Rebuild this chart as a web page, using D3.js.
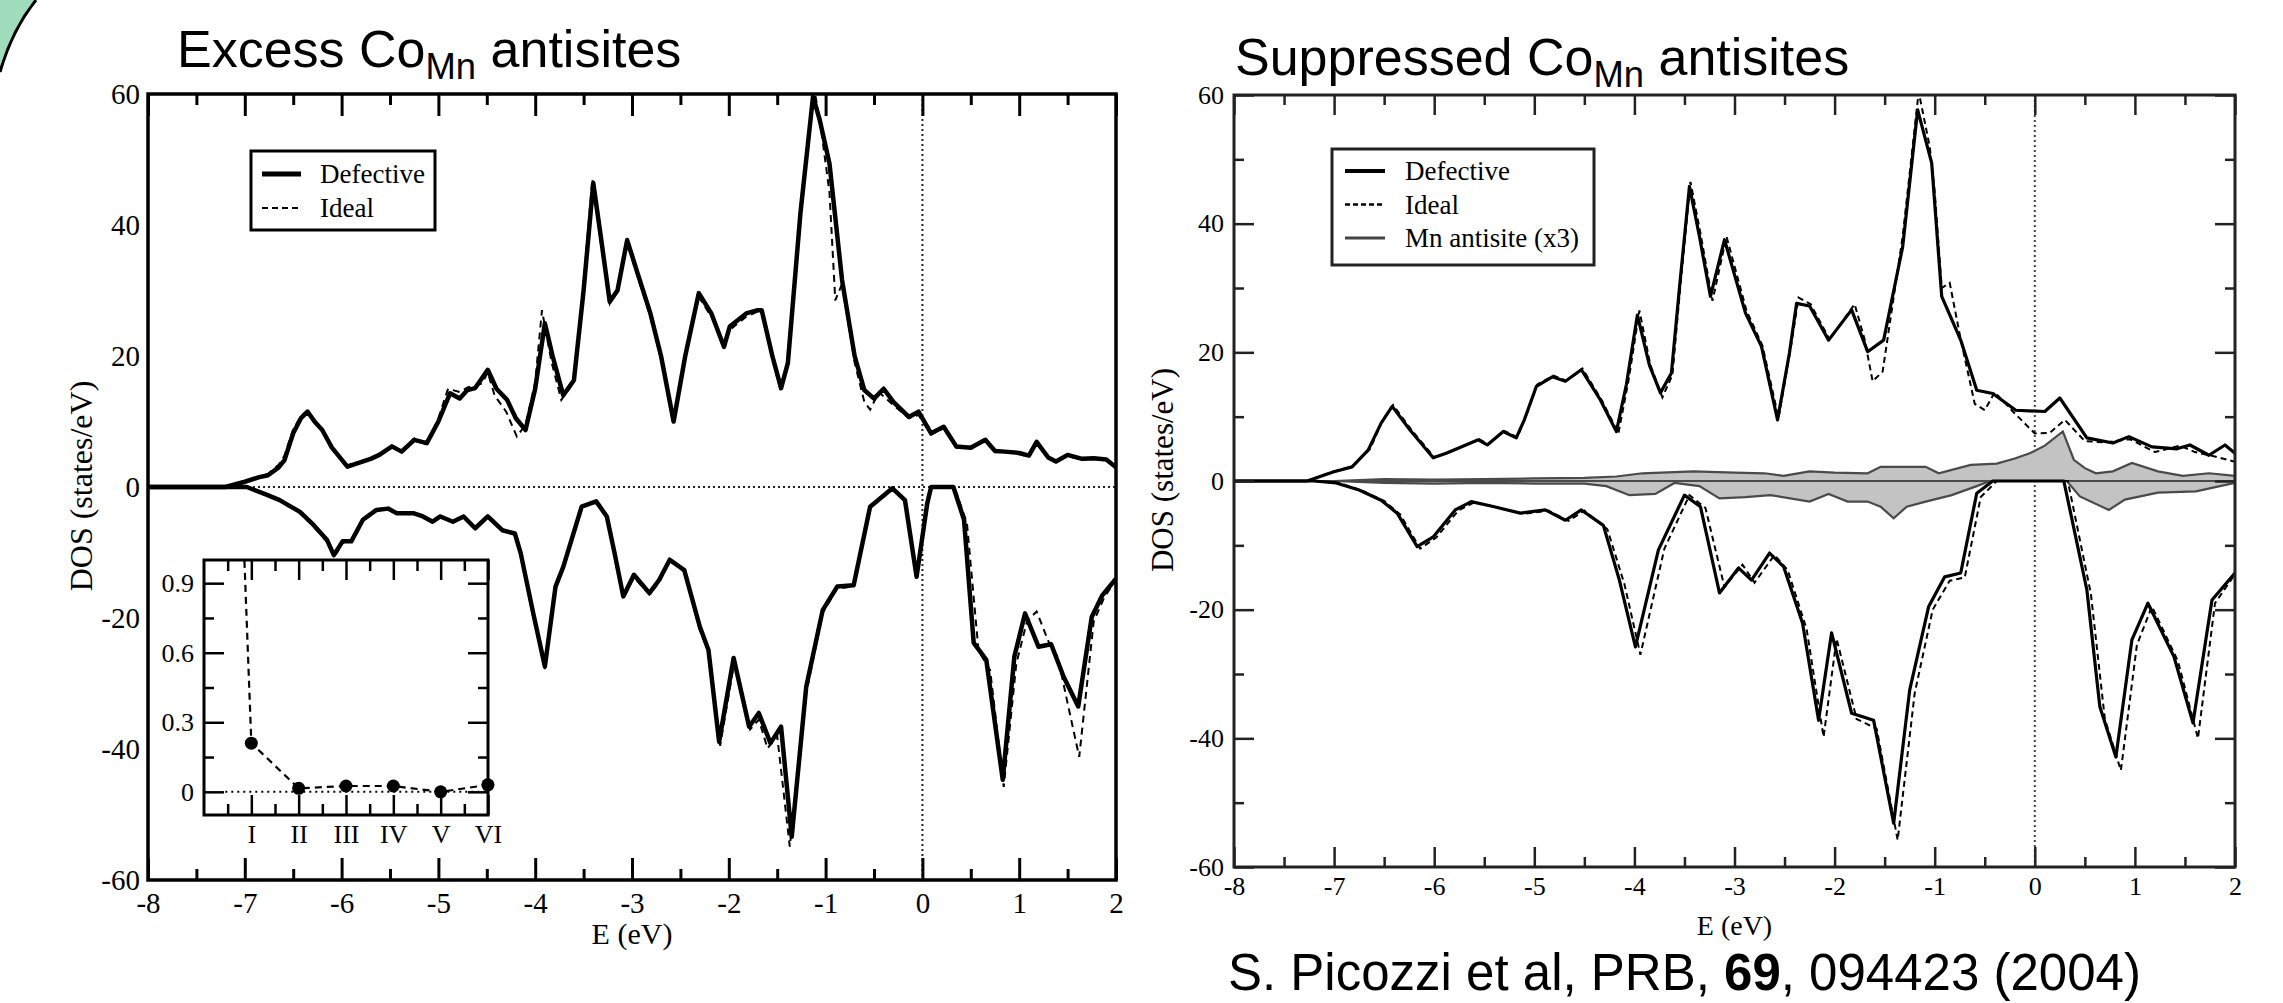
<!DOCTYPE html>
<html><head><meta charset="utf-8">
<script src="https://cdn.jsdelivr.net/npm/d3@7"></script>
<style>body{margin:0;background:#fff;overflow:hidden}</style>
</head><body>
<svg id="c" width="2283" height="1003"></svg>
<script>
// ---------------- DATA ----------------
const energyDomain = [-8, 2];
const dosDomain = [-60, 60];
const xTickValues = [-8,-7,-6,-5,-4,-3,-2,-1,0,1,2];
const xMinorTicks = [-7.5,-6.5,-5.5,-4.5,-3.5,-2.5,-1.5,-0.5,0.5,1.5];
const yTickValues = [-60,-40,-20,0,20,40,60];
const yMinorTicks = [-50,-30,-10,10,30,50];

// Left panel (Excess Co_Mn antisites): [E (eV), DOS]
const leftUpDefective = [[-8,0],[-7.2,0],[-7.0,0.8],[-6.85,1.5],[-6.76,1.8],[-6.65,3.0],[-6.59,4.1],[-6.5,8.2],[-6.42,10.5],[-6.35,11.5],[-6.28,10.0],[-6.2,8.7],[-6.1,6.0],[-5.94,3.1],[-5.8,3.8],[-5.7,4.3],[-5.61,4.9],[-5.48,6.2],[-5.38,5.4],[-5.25,7.2],[-5.12,6.7],[-5.0,10.0],[-4.88,14.3],[-4.78,13.5],[-4.7,14.8],[-4.62,15.1],[-4.49,17.9],[-4.4,15.0],[-4.29,13.3],[-4.2,10.5],[-4.1,8.7],[-4.0,15.0],[-3.9,25.0],[-3.82,20.0],[-3.71,14.0],[-3.6,16.3],[-3.5,30.0],[-3.4,46.4],[-3.32,38.0],[-3.23,28.3],[-3.15,30.0],[-3.05,37.7],[-2.95,33.0],[-2.81,26.5],[-2.7,20.0],[-2.57,10.0],[-2.45,20.0],[-2.31,29.6],[-2.18,26.5],[-2.05,21.4],[-1.99,24.5],[-1.82,26.5],[-1.7,27.0],[-1.66,27.0],[-1.55,20.0],[-1.46,15.1],[-1.39,18.9],[-1.26,41.8],[-1.13,59.6],[-1.06,56.0],[-0.96,49.4],[-0.83,31.6],[-0.7,20.0],[-0.6,14.8],[-0.5,13.5],[-0.4,15.0],[-0.3,13.0],[-0.14,10.7],[-0.04,11.5],[0.09,8.2],[0.22,9.2],[0.35,6.2],[0.5,6.0],[0.65,7.2],[0.75,5.5],[0.85,5.4],[1.0,5.2],[1.1,4.8],[1.18,6.9],[1.3,4.5],[1.38,3.9],[1.5,4.9],[1.65,4.3],[1.77,4.4],[1.9,4.2],[2.0,3.0]];
const leftUpIdeal = [[-8,0],[-7.2,0],[-7.0,0.9],[-6.85,1.6],[-6.76,2.0],[-6.65,3.4],[-6.59,4.8],[-6.5,8.8],[-6.42,10.8],[-6.36,11.6],[-6.28,10.2],[-6.2,8.5],[-6.1,5.8],[-5.95,3.3],[-5.8,3.9],[-5.7,4.4],[-5.61,5.0],[-5.48,6.0],[-5.38,5.6],[-5.25,7.4],[-5.12,6.5],[-5.0,10.5],[-4.9,15.0],[-4.78,14.5],[-4.7,15.2],[-4.55,15.8],[-4.49,17.5],[-4.42,14.0],[-4.3,11.5],[-4.19,7.7],[-4.1,9.5],[-4.0,16.0],[-3.93,27.0],[-3.83,19.0],[-3.73,13.3],[-3.6,16.0],[-3.5,31.0],[-3.41,47.0],[-3.32,37.0],[-3.23,28.0],[-3.15,30.5],[-3.05,37.2],[-2.95,32.5],[-2.81,26.0],[-2.7,19.5],[-2.57,10.5],[-2.45,20.5],[-2.31,29.0],[-2.18,26.0],[-2.05,21.8],[-1.99,24.0],[-1.82,26.0],[-1.7,26.8],[-1.66,26.5],[-1.55,19.5],[-1.46,14.5],[-1.39,19.5],[-1.26,43.0],[-1.12,61.0],[-1.05,55.0],[-0.96,45.0],[-0.9,28.5],[-0.83,31.0],[-0.7,19.0],[-0.6,13.0],[-0.54,11.8],[-0.45,14.5],[-0.3,12.5],[-0.14,10.5],[-0.04,11.0],[0.09,8.0],[0.22,9.0],[0.35,6.0],[0.5,6.2],[0.65,7.0],[0.75,5.3],[0.85,5.5],[1.0,5.0],[1.1,4.6],[1.18,6.7],[1.3,4.4],[1.38,3.8],[1.5,4.7],[1.65,4.2],[1.77,4.3],[1.9,4.1],[2.0,3.0]];
const leftDownDefective = [[-8,0],[-7.1,0],[-6.98,0],[-6.77,-1.2],[-6.64,-2.0],[-6.43,-3.8],[-6.29,-5.8],[-6.15,-8.1],[-6.08,-10.4],[-5.99,-8.3],[-5.9,-8.3],[-5.78,-5.0],[-5.64,-3.5],[-5.52,-3.3],[-5.43,-4.0],[-5.26,-4.0],[-5.16,-4.5],[-5.06,-5.3],[-4.98,-4.5],[-4.85,-5.3],[-4.74,-4.5],[-4.62,-6.3],[-4.49,-4.5],[-4.34,-6.6],[-4.21,-7.1],[-4.15,-10.1],[-4.02,-19.3],[-3.9,-27.4],[-3.79,-15.2],[-3.71,-12.2],[-3.52,-3.0],[-3.37,-2.2],[-3.26,-4.5],[-3.18,-10.1],[-3.09,-16.7],[-2.98,-13.4],[-2.82,-16.2],[-2.72,-14.2],[-2.61,-11.1],[-2.46,-12.7],[-2.3,-21.3],[-2.21,-24.9],[-2.1,-38.9],[-1.95,-26.1],[-1.79,-36.6],[-1.69,-34.5],[-1.57,-39.1],[-1.46,-36.6],[-1.35,-53.4],[-1.2,-30.5],[-1.03,-18.8],[-0.88,-15.2],[-0.71,-15.0],[-0.54,-3.0],[-0.31,-0.2],[-0.18,-2.0],[-0.06,-13.7],[0.05,-2.5],[0.09,0],[0.32,0],[0.43,-5.0],[0.53,-23.8],[0.66,-26.4],[0.83,-44.7],[0.95,-25.9],[1.06,-19.3],[1.2,-24.4],[1.33,-24.0],[1.46,-29.0],[1.61,-33.5],[1.75,-19.8],[1.86,-16.5],[2.0,-14.0]];
const leftDownIdeal = [[-8,0],[-7.1,0],[-6.98,0],[-6.77,-1.3],[-6.64,-2.1],[-6.43,-4.0],[-6.29,-6.0],[-6.15,-8.4],[-6.07,-10.6],[-5.99,-8.5],[-5.9,-8.1],[-5.78,-5.2],[-5.64,-3.6],[-5.52,-3.4],[-5.43,-4.1],[-5.26,-4.1],[-5.16,-4.6],[-5.06,-5.4],[-4.98,-4.6],[-4.85,-5.4],[-4.74,-4.6],[-4.62,-6.4],[-4.49,-4.6],[-4.34,-6.7],[-4.21,-7.3],[-4.15,-10.5],[-4.02,-19.8],[-3.9,-27.8],[-3.79,-15.5],[-3.71,-12.4],[-3.52,-3.1],[-3.37,-2.3],[-3.26,-4.7],[-3.18,-10.5],[-3.09,-17.0],[-2.98,-13.8],[-2.82,-16.4],[-2.72,-14.6],[-2.61,-11.3],[-2.46,-12.9],[-2.3,-21.8],[-2.2,-25.5],[-2.09,-39.5],[-1.94,-26.5],[-1.78,-37.0],[-1.69,-35.5],[-1.6,-39.9],[-1.5,-38.0],[-1.37,-54.9],[-1.2,-31.5],[-1.03,-19.2],[-0.88,-15.5],[-0.71,-15.2],[-0.54,-3.2],[-0.31,-0.3],[-0.18,-2.2],[-0.06,-14.0],[0.05,-2.6],[0.09,0],[0.33,0],[0.46,-5.5],[0.58,-25.0],[0.7,-28.0],[0.84,-45.8],[0.97,-27.0],[1.08,-20.5],[1.18,-19.0],[1.3,-23.5],[1.4,-26.0],[1.5,-33.0],[1.62,-41.2],[1.77,-20.5],[1.88,-16.8],[2.0,-14.2]];

// Inset: relative quantity per configuration
const insetCategories = ["", "I", "II", "III", "IV", "V", "VI"];
const insetValues = [5.6, 0.21, 0.015, 0.025, 0.025, 0.0, 0.03];
const insetYTicks = [0, 0.3, 0.6, 0.9];
const insetYLabels = ["0", "0.3", "0.6", "0.9"];
const insetYMinor = [0.15, 0.45, 0.75];

// Right panel (Suppressed Co_Mn antisites)
const rightUpDefective = [[-8,0],[-7.27,0],[-7.01,1.4],[-6.82,2.2],[-6.66,4.8],[-6.53,9.0],[-6.42,11.6],[-6.24,7.9],[-6.01,3.6],[-5.88,4.3],[-5.76,5.1],[-5.56,6.4],[-5.47,5.6],[-5.31,7.7],[-5.18,6.7],[-5.1,9.5],[-4.98,14.7],[-4.82,16.2],[-4.69,15.5],[-4.53,17.3],[-4.34,12.6],[-4.18,7.7],[-4.08,15.0],[-3.97,25.8],[-3.85,18.0],[-3.74,13.7],[-3.63,16.8],[-3.55,30.0],[-3.45,45.8],[-3.35,38.0],[-3.24,28.7],[-3.10,37.5],[-2.89,26.1],[-2.73,20.9],[-2.57,9.5],[-2.45,20.0],[-2.38,27.6],[-2.25,27.2],[-2.06,21.9],[-1.83,26.6],[-1.67,20.1],[-1.51,21.9],[-1.32,36.4],[-1.17,57.7],[-1.03,49.4],[-0.93,28.7],[-0.74,21.9],[-0.58,14.1],[-0.42,13.6],[-0.19,11.0],[0.10,10.8],[0.25,12.9],[0.52,6.7],[0.78,5.9],[0.94,6.9],[1.17,5.3],[1.42,5.0],[1.55,5.6],[1.74,4.0],[1.9,5.6],[2.0,4.3]];
const rightUpIdeal = [[-8,0],[-7.27,0],[-7.0,1.5],[-6.82,2.3],[-6.64,5.0],[-6.52,9.3],[-6.41,11.8],[-6.22,7.8],[-6.0,3.7],[-5.87,4.4],[-5.75,5.2],[-5.55,6.5],[-5.46,5.7],[-5.3,7.8],[-5.17,6.8],[-5.09,9.8],[-4.97,15.0],[-4.81,16.4],[-4.68,15.6],[-4.52,17.5],[-4.32,12.4],[-4.16,7.4],[-4.06,15.5],[-3.95,26.5],[-3.84,18.0],[-3.72,13.0],[-3.62,16.5],[-3.54,30.5],[-3.44,46.5],[-3.34,38.5],[-3.22,28.0],[-3.08,38.0],[-2.88,26.5],[-2.72,21.0],[-2.56,9.8],[-2.44,20.5],[-2.36,28.5],[-2.24,27.5],[-2.05,22.0],[-1.8,27.5],[-1.7,22.0],[-1.62,15.5],[-1.52,17.0],[-1.32,38.0],[-1.16,60.5],[-1.05,52.0],[-1.0,45.0],[-0.93,30.0],[-0.85,30.8],[-0.74,22.0],[-0.6,12.0],[-0.5,11.0],[-0.4,13.8],[-0.2,10.5],[0.0,7.4],[0.15,7.5],[0.3,9.5],[0.5,6.2],[0.7,6.0],[0.95,6.5],[1.2,4.5],[1.45,5.5],[1.6,4.5],[1.8,3.8],[2.0,3.0]];
const rightDownDefective = [[-8,0],[-7.2,0],[-6.98,-0.3],[-6.75,-1.4],[-6.53,-3.0],[-6.37,-5.0],[-6.17,-10.2],[-6.01,-8.7],[-5.79,-4.5],[-5.63,-3.2],[-5.40,-4.0],[-5.14,-5.0],[-4.89,-4.5],[-4.69,-6.1],[-4.53,-4.5],[-4.31,-6.9],[-4.15,-15.4],[-3.99,-25.8],[-3.76,-10.7],[-3.50,-2.2],[-3.34,-4.0],[-3.15,-17.4],[-2.96,-13.5],[-2.83,-15.4],[-2.65,-11.2],[-2.51,-13.3],[-2.32,-22.1],[-2.16,-37.2],[-2.03,-23.6],[-1.83,-36.1],[-1.61,-37.2],[-1.41,-53.2],[-1.25,-32.5],[-1.06,-19.5],[-0.90,-14.9],[-0.74,-14.3],[-0.58,-1.9],[-0.42,0],[0.29,0],[0.52,-16.9],[0.65,-35.1],[0.81,-42.9],[0.97,-24.7],[1.13,-19.0],[1.39,-27.3],[1.58,-37.6],[1.77,-18.5],[2.0,-14.3]];
const rightDownIdeal = [[-8,0],[-7.2,0],[-6.95,-0.3],[-6.72,-1.5],[-6.5,-3.1],[-6.34,-5.2],[-6.14,-10.5],[-5.98,-8.8],[-5.76,-4.6],[-5.6,-3.3],[-5.37,-4.1],[-5.11,-5.1],[-4.86,-4.6],[-4.66,-6.2],[-4.5,-4.6],[-4.27,-7.5],[-4.1,-16.0],[-3.94,-27.0],[-3.7,-10.5],[-3.45,-2.2],[-3.29,-4.2],[-3.1,-16.5],[-2.92,-13.0],[-2.8,-15.8],[-2.6,-11.5],[-2.47,-13.8],[-2.28,-23.0],[-2.11,-39.8],[-1.98,-24.5],[-1.78,-37.0],[-1.58,-38.5],[-1.37,-55.8],[-1.2,-33.0],[-1.02,-20.0],[-0.85,-15.5],[-0.7,-15.0],[-0.54,-2.5],[-0.38,0],[0.33,0],[0.56,-17.5],[0.7,-37.0],[0.86,-45.0],[1.02,-25.5],[1.17,-19.5],[1.43,-28.0],[1.63,-40.0],[1.8,-19.0],[2.0,-14.5]];
const rightAntisiteUp = [[-8,0],[-7.0,0],[-6.5,0.3],[-6.0,0.2],[-5.5,0.3],[-5.0,0.4],[-4.5,0.5],[-4.18,0.7],[-3.92,1.2],[-3.41,1.5],[-3.0,1.3],[-2.7,1.2],[-2.51,0.8],[-2.25,1.5],[-2.0,1.3],[-1.67,1.2],[-1.54,2.2],[-1.09,2.2],[-0.96,1.2],[-0.64,2.5],[-0.38,2.7],[-0.2,3.5],[-0.05,4.3],[0.1,5.5],[0.28,7.7],[0.39,3.3],[0.5,2.0],[0.61,1.2],[0.78,1.5],[0.97,2.8],[1.23,1.5],[1.48,0.8],[1.74,1.2],[2.0,0.8]];
const rightAntisiteDown = [[-8,0],[-7.0,0],[-6.5,-0.3],[-6.0,-0.4],[-5.5,-0.3],[-5.0,-0.4],[-4.5,-0.4],[-4.28,-0.8],[-4.05,-2.2],[-3.79,-2.0],[-3.6,-0.3],[-3.35,-0.8],[-3.15,-2.7],[-2.89,-2.5],[-2.64,-2.2],[-2.25,-3.2],[-2.06,-2.0],[-1.87,-3.2],[-1.67,-3.2],[-1.54,-4.0],[-1.41,-5.8],[-1.28,-4.0],[-1.09,-3.2],[-0.83,-2.2],[-0.58,-0.8],[-0.45,0],[0.32,0],[0.45,-2.4],[0.74,-4.5],[0.9,-2.9],[1.23,-1.8],[1.61,-1.6],[2.0,-0.3]];

// ---------------- DRAWING ----------------
const SERIF = "'Liberation Serif','Times New Roman',serif";
const SANS = "'Liberation Sans',Arial,sans-serif";
const svg = d3.select('#c');

// decorative slide corner
svg.append('path').attr('d','M0,0 L36,0 Q12,30 0,72 Z').attr('fill','#9fdcbb');
svg.append('path').attr('d','M36,0 Q12,30 0,72').attr('fill','none').attr('stroke','#000').attr('stroke-width',3);

function title(x, y, pre, sub, post, size) {
  const t = svg.append('text').attr('x', x).attr('y', y).attr('font-family', SANS).attr('font-size', size).attr('fill','#000');
  t.append('tspan').text(pre);
  t.append('tspan').attr('font-size', size*0.7).attr('dy', size*0.24).text(sub);
  t.append('tspan').attr('dy', -size*0.24).text(post);
}
title(177, 67, 'Excess Co', 'Mn', ' antisites', 52);
title(1235, 75, 'Suppressed Co', 'Mn', ' antisites', 52);

const cite = svg.append('text').attr('x', 1228).attr('y', 990).attr('font-family', SANS).attr('font-size', 51).attr('fill','#000');
cite.append('tspan').text('S. Picozzi et al, PRB, ');
cite.append('tspan').attr('font-weight','bold').text('69');
cite.append('tspan').text(', 094423 (2004)');

function styleAxis(sel, color, w, fs) {
  sel.select('.domain').remove();
  sel.selectAll('line').attr('stroke', color).attr('stroke-width', w);
  sel.selectAll('text').attr('font-family', SERIF).attr('font-size', fs).attr('fill', '#000');
}

function drawPanel(p) {
  const g = svg.append('g');
  const x = d3.scaleLinear().domain(energyDomain).range([p.left, p.right]);
  const y = d3.scaleLinear().domain(dosDomain).range([p.bottom, p.top]);
  const cid = 'clip' + p.id;
  svg.append('clipPath').attr('id', cid).append('rect')
    .attr('x', p.left).attr('y', p.top).attr('width', p.right - p.left).attr('height', p.bottom - p.top);
  const plot = g.append('g').attr('clip-path', `url(#${cid})`);

  // zero reference lines (dotted)
  plot.append('line').attr('x1', x(energyDomain[0])).attr('x2', x(energyDomain[1])).attr('y1', y(0)).attr('y2', y(0))
    .attr('stroke', p.dotColor).attr('stroke-width', 2).attr('stroke-dasharray', '2,3');
  plot.append('line').attr('x1', x(0)).attr('x2', x(0)).attr('y1', p.top).attr('y2', p.bottom)
    .attr('stroke', p.dotColor).attr('stroke-width', 2).attr('stroke-dasharray', '2,3');

  const line = d3.line().x(d => x(d[0])).y(d => y(d[1]));
  const area = d3.area().x(d => x(d[0])).y0(y(0)).y1(d => y(d[1]));

  (p.areas || []).forEach(a => {
    plot.append('path').datum(a).attr('d', area).attr('fill', '#c3c3c3').attr('stroke', '#4a4a4a').attr('stroke-width', 2.2);
  });
  p.ideal.forEach(s => {
    plot.append('path').datum(s).attr('d', line).attr('fill', 'none').attr('stroke', '#000')
      .attr('stroke-width', p.idealW).attr('stroke-dasharray', p.dash);
  });
  p.defective.forEach(s => {
    plot.append('path').datum(s).attr('d', line).attr('fill', 'none').attr('stroke', '#000')
      .attr('stroke-width', p.defW).attr('stroke-linejoin', 'round');
  });

  // axes: ticks pointing inward
  const fmt = d => String(d);
  const bot = g.append('g').attr('transform', `translate(0,${p.bottom})`)
    .call(d3.axisBottom(x).tickValues(xTickValues).tickSize(-p.major).tickPadding(p.xPad).tickFormat(fmt));
  styleAxis(bot, p.frameColor, p.tickW, p.tickFont);
  const botm = g.append('g').attr('transform', `translate(0,${p.bottom})`)
    .call(d3.axisBottom(x).tickValues(xMinorTicks).tickSize(-p.minor).tickFormat(''));
  styleAxis(botm, p.frameColor, p.tickW, p.tickFont);
  const top = g.append('g').attr('transform', `translate(0,${p.top})`)
    .call(d3.axisTop(x).tickValues(xTickValues).tickSize(-p.major).tickFormat(''));
  styleAxis(top, p.frameColor, p.tickW, p.tickFont);
  const topm = g.append('g').attr('transform', `translate(0,${p.top})`)
    .call(d3.axisTop(x).tickValues(xMinorTicks).tickSize(-p.minor).tickFormat(''));
  styleAxis(topm, p.frameColor, p.tickW, p.tickFont);

  const lef = g.append('g').attr('transform', `translate(${p.left},0)`)
    .call(d3.axisLeft(y).tickValues(yTickValues).tickSize(p.yTicks ? -p.major : 0).tickPadding(p.yPad).tickFormat(fmt));
  styleAxis(lef, p.frameColor, p.tickW, p.tickFont);
  if (p.yTicks) {
    const lefm = g.append('g').attr('transform', `translate(${p.left},0)`)
      .call(d3.axisLeft(y).tickValues(yMinorTicks).tickSize(-p.minor).tickFormat(''));
    styleAxis(lefm, p.frameColor, p.tickW, p.tickFont);
    const rig = g.append('g').attr('transform', `translate(${p.right},0)`)
      .call(d3.axisRight(y).tickValues(yTickValues).tickSize(-p.major).tickFormat(''));
    styleAxis(rig, p.frameColor, p.tickW, p.tickFont);
    const rigm = g.append('g').attr('transform', `translate(${p.right},0)`)
      .call(d3.axisRight(y).tickValues(yMinorTicks).tickSize(-p.minor).tickFormat(''));
    styleAxis(rigm, p.frameColor, p.tickW, p.tickFont);
  }

  // frame
  g.append('rect').attr('x', p.left).attr('y', p.top).attr('width', p.right - p.left).attr('height', p.bottom - p.top)
    .attr('fill', 'none').attr('stroke', p.frameColor).attr('stroke-width', p.frameW);

  // axis labels
  g.append('text').attr('x', (p.left + p.right) / 2).attr('y', p.xLabelY).attr('text-anchor', 'middle')
    .attr('font-family', SERIF).attr('font-size', p.labelFont).text('E (eV)');
  g.append('text').attr('transform', `translate(${p.yLabelX},${p.yLabelCY}) rotate(-90)`).attr('text-anchor', 'middle')
    .attr('dominant-baseline', 'central').attr('font-family', SERIF).attr('font-size', p.yLabelFont).text('DOS (states/eV)');

  // legend
  const L = p.legend;
  g.append('rect').attr('x', L.x).attr('y', L.y).attr('width', L.w).attr('height', L.h)
    .attr('fill', '#fff').attr('stroke', p.frameColor).attr('stroke-width', 3);
  L.items.forEach((it, i) => {
    const cy = L.y + L.first + i * L.step;
    g.append('line').attr('x1', L.x + L.lx0).attr('x2', L.x + L.lx1).attr('y1', cy).attr('y2', cy)
      .attr('stroke', it.color).attr('stroke-width', it.w).attr('stroke-dasharray', it.dash || null);
    g.append('text').attr('x', L.x + L.tx).attr('y', cy).attr('dominant-baseline', 'central')
      .attr('font-family', SERIF).attr('font-size', L.font).text(it.label);
  });
  return {x, y};
}

drawPanel({
  id: 'L', left: 148, right: 1116, top: 94, bottom: 880,
  defective: [leftUpDefective, leftDownDefective], ideal: [leftUpIdeal, leftDownIdeal],
  defW: 4.5, idealW: 2, dash: '7,5', frameColor: '#000', frameW: 3.5, tickW: 3, dotColor: '#222',
  major: 22, minor: 11, xPad: 12, yPad: 8, yTicks: false, tickFont: 29, labelFont: 30, yLabelFont: 32,
  xLabelY: 944, yLabelX: 81, yLabelCY: 486,
  legend: {x: 251, y: 151, w: 184, h: 79, first: 23, step: 34, lx0: 11, lx1: 50, tx: 69, font: 27,
    items: [{label: 'Defective', color: '#000', w: 5}, {label: 'Ideal', color: '#000', w: 2, dash: '6,4'}]}
});

drawPanel({
  id: 'R', left: 1234, right: 2235, top: 95, bottom: 867,
  defective: [rightUpDefective, rightDownDefective], ideal: [rightUpIdeal, rightDownIdeal],
  areas: [rightAntisiteUp, rightAntisiteDown],
  defW: 3.2, idealW: 2, dash: '6,4', frameColor: '#222', frameW: 3, tickW: 2.5, dotColor: '#444',
  major: 20, minor: 10, xPad: 10, yPad: 10, yTicks: true, tickFont: 26, labelFont: 28, yLabelFont: 31,
  xLabelY: 935, yLabelX: 1162, yLabelCY: 470,
  legend: {x: 1332, y: 149, w: 262, h: 116, first: 22, step: 33.5, lx0: 13, lx1: 53, tx: 73, font: 27,
    items: [{label: 'Defective', color: '#000', w: 4}, {label: 'Ideal', color: '#000', w: 2.5, dash: '5,3'},
            {label: 'Mn antisite (x3)', color: '#444', w: 3}]}
});

// ---------------- INSET ----------------
(function inset() {
  const box = {left: 204, right: 488, top: 560, bottom: 815};
  const g = svg.append('g');
  const xi = d3.scaleLinear().domain([0, insetCategories.length - 1]).range([box.left, box.right]);
  const yi = d3.scaleLinear().domain([-0.1, 1.0]).range([box.bottom, box.top]);
  g.append('rect').attr('x', box.left).attr('y', box.top).attr('width', box.right - box.left).attr('height', box.bottom - box.top)
    .attr('fill', '#fff');
  svg.append('clipPath').attr('id', 'clipI').append('rect')
    .attr('x', box.left).attr('y', box.top).attr('width', box.right - box.left).attr('height', box.bottom - box.top);
  const plot = g.append('g').attr('clip-path', 'url(#clipI)');
  plot.append('line').attr('x1', xi(0.45)).attr('x2', xi(6)).attr('y1', yi(0)).attr('y2', yi(0))
    .attr('stroke', '#000').attr('stroke-width', 2).attr('stroke-dasharray', '2,4');
  const pts = insetValues.map((v, i) => [i, v]);
  plot.append('path').datum(pts).attr('d', d3.line().x(d => xi(d[0])).y(d => yi(d[1])))
    .attr('fill', 'none').attr('stroke', '#000').attr('stroke-width', 2.2).attr('stroke-dasharray', '7,5');
  plot.selectAll('circle').data(pts.slice(1)).enter().append('circle')
    .attr('cx', d => xi(d[0])).attr('cy', d => yi(d[1])).attr('r', 6.5).attr('fill', '#000');
  g.selectAll('circle.edge').data(pts.slice(1).filter(d => d[0] === 6)).enter().append('circle')
    .attr('class','edge').attr('cx', d => xi(d[0])).attr('cy', d => yi(d[1])).attr('r', 6.5).attr('fill', '#000');

  const xMaj = d3.range(1, insetCategories.length);
  const xMin = xMaj.map(v => v - 0.5);
  const mk = (axis, tr, vals, size, fmt) => {
    const a = g.append('g').attr('transform', tr).call(axis.tickValues(vals).tickSize(-size).tickPadding(10).tickFormat(fmt));
    styleAxis(a, '#000', 2.5, 26);
    return a;
  };
  mk(d3.axisBottom(xi), `translate(0,${box.bottom})`, xMaj, 20, d => insetCategories[d]);
  mk(d3.axisBottom(xi), `translate(0,${box.bottom})`, xMin, 11, '');
  mk(d3.axisTop(xi), `translate(0,${box.top})`, xMaj, 20, '');
  mk(d3.axisTop(xi), `translate(0,${box.top})`, xMin, 11, '');
  mk(d3.axisLeft(yi), `translate(${box.left},0)`, insetYTicks, 20, (d, i) => insetYLabels[i]);
  mk(d3.axisLeft(yi), `translate(${box.left},0)`, insetYMinor, 10, '');
  mk(d3.axisRight(yi), `translate(${box.right},0)`, insetYTicks, 20, '');
  mk(d3.axisRight(yi), `translate(${box.right},0)`, insetYMinor, 10, '');
  g.append('rect').attr('x', box.left).attr('y', box.top).attr('width', box.right - box.left).attr('height', box.bottom - box.top)
    .attr('fill', 'none').attr('stroke', '#000').attr('stroke-width', 3);
})();
</script>
</body></html>
